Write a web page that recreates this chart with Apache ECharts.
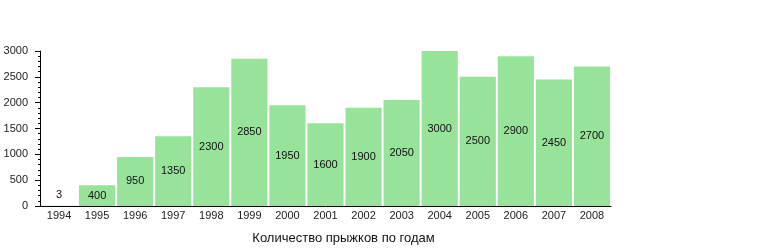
<!DOCTYPE html>
<html><head><meta charset="utf-8">
<script src="https://cdn.jsdelivr.net/npm/echarts@6/dist/echarts.min.js"></script>
<style>html,body{margin:0;padding:0;background:#fff}#c{width:780px;height:250px}</style>
</head><body><div id="c"></div>
<script>
var years = ['1994','1995','1996','1997','1998','1999','2000','2001','2002','2003','2004','2005','2006','2007','2008'];
var jumps = [3,400,950,1350,2300,2850,1950,1600,1900,2050,3000,2500,2900,2450,2700];
var yTicks = [0,500,1000,1500,2000,2500,3000];
var xTitle = 'Количество прыжков по годам';

var chart = echarts.init(document.getElementById('c'), null, {renderer:'canvas'});
var font = 'Liberation Sans, Arial, sans-serif';
chart.setOption({
  animation:false,
  grid:{left:40,right:169,top:51,bottom:44,containLabel:false},
  xAxis:{type:'category',data:years,
    axisLine:{lineStyle:{color:'#000',width:1}},
    axisTick:{show:false},
    axisLabel:{color:'#222',fontSize:11,fontFamily:font,margin:4},
    name:xTitle,nameLocation:'middle',nameGap:26,
    nameTextStyle:{color:'#111',fontSize:13,fontFamily:font,padding:[0,0,0,36]}
  },
  yAxis:{type:'value',min:yTicks[0],max:yTicks[yTicks.length-1],interval:500,
    axisLine:{show:true,lineStyle:{color:'#000',width:1}},
    axisTick:{show:true,length:5,lineStyle:{color:'#000'}},
    minorTick:{show:true,splitNumber:5,length:2,lineStyle:{color:'#000'}},
    splitLine:{show:false},
    axisLabel:{color:'#222',fontSize:11,fontFamily:font,margin:12,
      formatter:function(v){return String(v);}}
  },
  series:[{type:'bar',
    data:jumps.map(function(v){return v<100?{value:v,label:{position:'top',distance:5}}:v;}),
    barCategoryGap:'5%',
    itemStyle:{color:'#98e39a'},
    label:{show:true,position:'inside',color:'#111',fontSize:11,fontFamily:font}
  }]
});
</script></body></html>
